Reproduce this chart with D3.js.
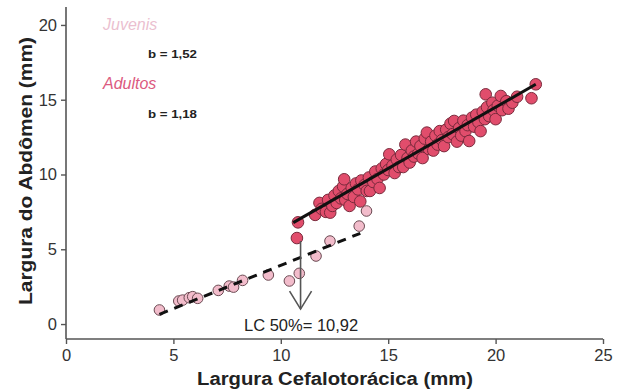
<!DOCTYPE html>
<html>
<head>
<meta charset="utf-8">
<script src="https://cdn.jsdelivr.net/npm/d3@7"></script>
<style>
  body { margin: 0; background: #fff; }
  svg { display: block; font-family: Arial, "Liberation Sans", sans-serif; }
</style>
</head>
<body>
<svg id="chart" width="623" height="392"></svg>
<script>
// juvenile points [LC, LA]
const juvenis = [
  [4.35, 0.94], [5.25, 1.54], [5.43, 1.6], [5.74, 1.76], [5.9, 1.83], [6.13, 1.72],
  [7.09, 2.25], [7.6, 2.54], [7.8, 2.47], [8.22, 2.92], [9.42, 3.28], [10.4, 2.88],
  [10.86, 3.39], [11.64, 4.55], [12.29, 5.55], [13.65, 6.55], [13.99, 7.56]
];

// adult points [LC, LA]
const adultos = [
  [10.8, 6.8], [10.75, 5.75], [11.6, 7.3], [11.8, 8.1], [11.9, 7.7], [12.1, 7.5],
  [12.2, 8.3], [12.3, 7.45], [12.4, 7.9], [12.5, 8.6], [12.6, 8.1], [12.7, 8.9],
  [12.8, 8.4], [12.9, 9.2], [12.95, 9.68], [13.0, 8.3], [13.1, 8.7], [13.2, 7.9],
  [13.3, 9.1], [13.4, 8.5], [13.5, 9.4], [13.6, 9.0], [13.7, 8.2], [13.75, 9.6],
  [13.9, 9.3], [14.0, 8.9], [14.1, 9.8], [14.15, 8.9], [14.3, 9.5], [14.4, 10.2],
  [14.5, 9.7], [14.6, 9.1], [14.7, 10.4], [14.8, 10.0], [14.9, 10.7], [15.0, 10.3],
  [15.05, 11.35], [15.2, 10.6], [15.3, 10.1], [15.4, 11.0], [15.5, 10.5], [15.6, 11.3],
  [15.7, 10.5], [15.8, 12.0], [15.9, 11.1], [16.0, 10.8], [16.1, 11.6], [16.2, 11.2],
  [16.3, 12.2], [16.4, 11.4], [16.5, 11.9], [16.6, 11.1], [16.7, 12.4], [16.8, 12.8],
  [16.9, 11.7], [17.0, 12.2], [17.1, 11.6], [17.2, 12.6], [17.3, 12.0], [17.4, 12.9],
  [17.5, 12.3], [17.6, 11.9], [17.7, 13.0], [17.8, 12.5], [17.9, 13.4], [18.0, 12.7],
  [18.07, 13.58], [18.2, 12.2], [18.3, 13.1], [18.4, 12.6], [18.5, 13.6], [18.6, 12.9],
  [18.7, 13.3], [18.77, 12.24], [18.9, 13.8], [19.0, 13.2], [19.1, 14.0], [19.2, 13.5],
  [19.3, 12.9], [19.4, 14.2], [19.5, 13.7], [19.54, 15.36], [19.6, 14.5], [19.7, 13.9],
  [19.85, 14.8], [19.9, 14.3], [20.0, 13.7], [20.1, 14.6], [20.24, 15.25], [20.3, 14.3],
  [20.5, 14.9], [20.6, 14.4], [20.78, 14.8], [21.0, 15.2], [21.67, 15.1], [21.87, 16.03]
];

// fitted lines (end points)
const lineJuvenis = [[4.35, 0.65], [13.7, 6.07]];
const lineAdultos = [[10.58, 6.78], [21.87, 16.03]];

const xTicks = [0, 5, 10, 15, 20, 25];
const yTicks = [0, 5, 10, 15, 20];
const lc50 = 10.92;

const svg = d3.select("#chart");
const axisColor = "#555";

const x = d3.scaleLinear().domain([0, 25]).range([66, 603]);
const y = d3.scaleLinear().domain([-1, 21.2]).range([339, 7]);

// axes
const xAxis = svg.append("g")
  .attr("transform", `translate(0,${y(-1)})`)
  .call(d3.axisBottom(x).tickValues(xTicks).tickSize(5).tickPadding(5));
const yAxis = svg.append("g")
  .attr("transform", `translate(${x(0)},0)`)
  .call(d3.axisLeft(y).tickValues(yTicks).tickSize(5).tickPadding(4));

[xAxis, yAxis].forEach((g) => {
  g.select(".domain").attr("stroke", axisColor).attr("stroke-width", 1.6);
  g.selectAll(".tick line").attr("stroke", axisColor).attr("stroke-width", 1.4);
  g.selectAll(".tick text").attr("fill", "#333").style("font-size", "16.5px")
    .style("font-family", "Arial, 'Liberation Sans', sans-serif");
});
// plain axis lines without end caps
xAxis.select(".domain").attr("d", `M${x(0)},0H${x(25)}`);
yAxis.select(".domain").attr("d", `M0,${y(21.2)}V${y(-1)}`);

// axis titles
svg.append("text")
  .attr("x", 335).attr("y", 385)
  .attr("text-anchor", "middle")
  .attr("font-weight", "bold").attr("font-size", 18).attr("fill", "#222")
  .attr("textLength", 276).attr("lengthAdjust", "spacingAndGlyphs")
  .text("Largura Cefalotorácica (mm)");
svg.append("text")
  .attr("transform", "translate(32,171) rotate(-90)")
  .attr("text-anchor", "middle")
  .attr("font-weight", "bold").attr("font-size", 18).attr("fill", "#222")
  .attr("textLength", 268).attr("lengthAdjust", "spacingAndGlyphs")
  .text("Largura do Abdômen (mm)");

const line = d3.line().x((d) => x(d[0])).y((d) => y(d[1]));

// juvenile points and dashed fit
svg.append("g").selectAll("circle")
  .data(juvenis).enter().append("circle")
  .attr("cx", (d) => x(d[0])).attr("cy", (d) => y(d[1]))
  .attr("r", 5.3)
  .attr("fill", "#f2bccb").attr("stroke", "#6a4a52").attr("stroke-width", 1);

svg.append("path").datum(lineJuvenis)
  .attr("d", line)
  .attr("fill", "none").attr("stroke", "#111").attr("stroke-width", 3)
  .attr("stroke-dasharray", "9,7");

// adult points and fit
svg.append("g").selectAll("circle")
  .data(adultos).enter().append("circle")
  .attr("cx", (d) => x(d[0])).attr("cy", (d) => y(d[1]))
  .attr("r", 5.8)
  .attr("fill", "#e14d6c").attr("stroke", "#7a2a3c").attr("stroke-width", 1);

svg.append("path").datum(lineAdultos)
  .attr("d", line)
  .attr("fill", "none").attr("stroke", "#111").attr("stroke-width", 3);

// LC 50% arrow
const ax = x(lc50);
svg.append("line")
  .attr("x1", ax).attr("x2", ax).attr("y1", y(5.55)).attr("y2", y(1.0))
  .attr("stroke", axisColor).attr("stroke-width", 1.6);
svg.append("path")
  .attr("d", `M${ax - 11},${y(2.2)}L${ax},${y(1.0)}L${ax + 11},${y(2.2)}`)
  .attr("fill", "none").attr("stroke", axisColor).attr("stroke-width", 1.6);
svg.append("text")
  .attr("x", 244).attr("y", 331)
  .attr("font-size", 16.5).attr("fill", "#222")
  .text("LC 50%= 10,92");

// group labels
svg.append("text").attr("x", 103).attr("y", 30)
  .attr("font-style", "italic").attr("font-size", 16).attr("fill", "#ebbfd0")
  .text("Juvenis");
svg.append("text").attr("x", 148).attr("y", 58)
  .attr("font-size", 11).attr("font-weight", "bold").attr("fill", "#222")
  .attr("textLength", 49).attr("lengthAdjust", "spacingAndGlyphs")
  .text("b = 1,52");
svg.append("text").attr("x", 103).attr("y", 89)
  .attr("font-style", "italic").attr("font-size", 16).attr("fill", "#dc5a80")
  .text("Adultos");
svg.append("text").attr("x", 148).attr("y", 118)
  .attr("font-size", 11).attr("font-weight", "bold").attr("fill", "#222")
  .attr("textLength", 49).attr("lengthAdjust", "spacingAndGlyphs")
  .text("b = 1,18");
</script>
</body>
</html>
